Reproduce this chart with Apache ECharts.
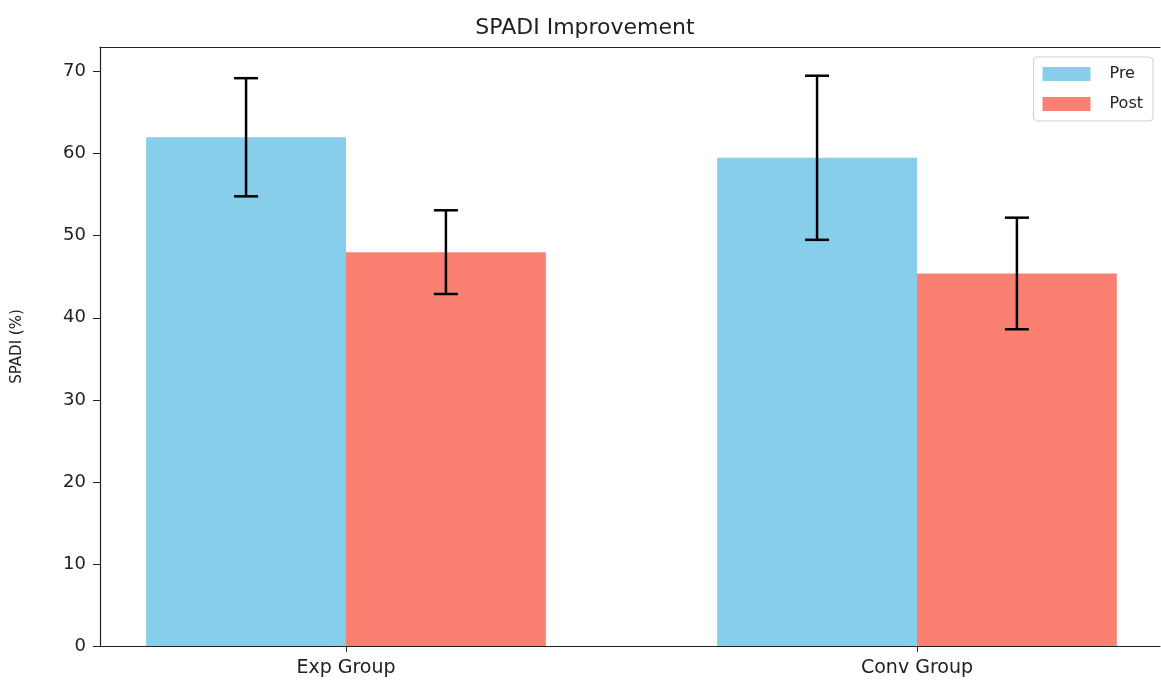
<!DOCTYPE html>
<html>
<head>
<meta charset="utf-8">
<script src="https://cdn.jsdelivr.net/npm/echarts@6/dist/echarts.min.js"></script>
<style>
  html, body { margin: 0; padding: 0; background: #fff; }
  #chart { width: 1161px; height: 684px; }
</style>
</head>
<body>
<div id="chart"></div>
<script>
const categories = ['Exp Group', 'Conv Group']
const preValues = [62, 59.5]
const preErrors = [7.2, 10]
const postValues = [48, 45.4]
const postErrors = [5.1, 6.8]
const yTicks = [0, 10, 20, 30, 40, 50, 60, 70]

const barWidth = 0.35
const fontFamily = '"DejaVu Sans", sans-serif'

const chart = echarts.init(document.getElementById('chart'))

// bar drawn from x-start to x-start + width, using the axis scale
const renderBar = (params, api) => {
  const x0 = api.value(0)
  const y = api.value(1)
  const p1 = api.coord([x0, y])
  const p0 = api.coord([x0 + barWidth, 0])
  return {
    type: 'rect',
    shape: { x: p1[0], y: p1[1], width: p0[0] - p1[0], height: p0[1] - p1[1] },
    style: { fill: api.visual('color') }
  }
}

const renderError = (params, api) => {
  const x = api.value(0)
  const y = api.value(1)
  const e = api.value(2)
  const top = api.coord([x, y + e])
  const bot = api.coord([x, y - e])
  const cap = 12
  const style = { stroke: '#000', lineWidth: 2.5 }
  return {
    type: 'group',
    children: [
      { type: 'line', shape: { x1: top[0], y1: top[1], x2: bot[0], y2: bot[1] }, style },
      { type: 'line', shape: { x1: top[0] - cap, y1: top[1], x2: top[0] + cap, y2: top[1] }, style },
      { type: 'line', shape: { x1: bot[0] - cap, y1: bot[1], x2: bot[0] + cap, y2: bot[1] }, style }
    ]
  }
}

const axisColor = '#222'

const option = {
  animation: false,
  title: {
    text: 'SPADI Improvement',
    left: 580,
    textAlign: 'center',
    top: 12,
    textStyle: { fontFamily, fontSize: 22, fontWeight: 'normal', color: axisColor }
  },
  legend: {
    right: 8,
    top: 57,
    orient: 'vertical',
    itemWidth: 48,
    itemHeight: 14,
    itemGap: 14,
    padding: [9, 10, 9, 9],
    borderColor: '#d0d0d0',
    borderWidth: 1,
    borderRadius: 4,
    icon: 'rect',
    data: ['Pre', 'Post'],
    textStyle: { fontFamily, fontSize: 16, color: axisColor, padding: [0, 0, 0, 14] }
  },
  grid: { left: 100, right: 1, top: 47, bottom: 38 },
  xAxis: [
    {
      type: 'value',
      min: -0.4308,
      max: 1.4256,
      splitLine: { show: false },
      axisLine: { onZero: false, lineStyle: { color: axisColor, width: 1.2 } },
      axisTick: { show: true, length: 6, customValues: [0, 1], lineStyle: { color: axisColor } },
      axisLabel: {
        customValues: [0, 1],
        formatter: v => categories[Math.round(v)],
        fontFamily, fontSize: 19, color: axisColor, margin: 13
      }
    },
    {
      // top spine
      type: 'value',
      position: 'top',
      min: -0.4308,
      max: 1.4256,
      splitLine: { show: false },
      axisLine: { show: true, onZero: false, lineStyle: { color: axisColor, width: 1.2 } },
      axisTick: { show: false },
      axisLabel: { show: false }
    }
  ],
  yAxis: {
    type: 'value',
    min: 0,
    max: 73,
    name: 'SPADI (%)',
    nameLocation: 'middle',
    nameGap: 75,
    nameTextStyle: { fontFamily, fontSize: 15, color: axisColor },
    splitLine: { show: false },
    axisLine: { show: true, onZero: false, lineStyle: { color: axisColor, width: 1.2 } },
    axisTick: { show: true, length: 7, customValues: yTicks, lineStyle: { color: axisColor } },
    axisLabel: { customValues: yTicks, fontFamily, fontSize: 18, color: axisColor, margin: 14 }
  },
  series: [
    {
      name: 'Pre',
      type: 'custom',
      itemStyle: { color: '#87CEEB' },
      renderItem: renderBar,
      data: preValues.map((v, i) => [i - barWidth, v])
    },
    {
      name: 'Post',
      type: 'custom',
      itemStyle: { color: '#FA8072' },
      renderItem: renderBar,
      data: postValues.map((v, i) => [i, v])
    },
    {
      name: 'preErr',
      type: 'custom',
      z: 5,
      renderItem: renderError,
      data: preValues.map((v, i) => [i - barWidth / 2, v, preErrors[i]])
    },
    {
      name: 'postErr',
      type: 'custom',
      z: 5,
      renderItem: renderError,
      data: postValues.map((v, i) => [i + barWidth / 2, v, postErrors[i]])
    }
  ]
}

chart.setOption(option)
</script>
</body>
</html>
